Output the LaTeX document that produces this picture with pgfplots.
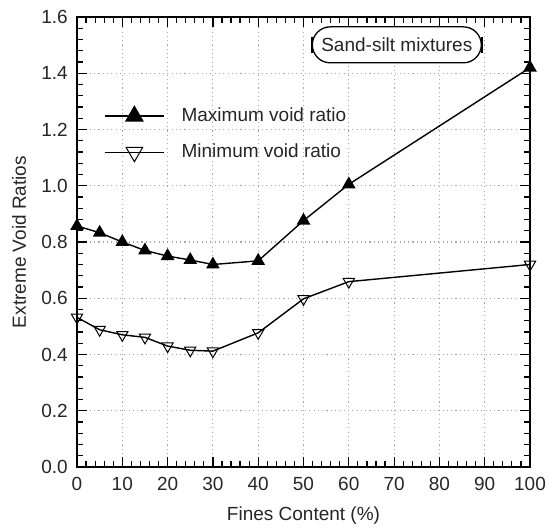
\documentclass[border=0pt]{standalone}
\usepackage{fontspec}
\setmainfont{Liberation Sans}
\usepackage{pgfplots}
\usepackage{pgfplotstable}
\pgfplotsset{compat=1.18}

% Extreme void ratios of sand-silt mixtures against fines content
\pgfplotstableread{
fc   emax
0    0.857
5    0.833
10   0.800
15   0.770
20   0.750
25   0.736
30   0.720
40   0.733
50   0.876
60   1.005
100  1.420
}\emaxdata
\pgfplotstableread{
fc   emin
0    0.532
5    0.488
10   0.470
15   0.461
20   0.430
25   0.415
30   0.412
40   0.477
50   0.598
60   0.659
100  0.720
}\emindata

\begin{document}
\fontsize{19bp}{23bp}\selectfont
\begin{tikzpicture}
\begin{axis}[
  at={(0,0)}, anchor=south west,
  scale only axis, width=453bp, height=450bp,
  xmin=0, xmax=100, ymin=0, ymax=1.6,
  xtick={0,10,20,30,40,50,60,70,80,90,100},
  ytick={0,0.2,0.4,0.6,0.8,1.0,1.2,1.4,1.6},
  minor x tick num=4, minor y tick num=4,
  tick align=inside,
  major tick length=10bp, minor tick length=6bp,
  tick style={black, line width=1.2bp},
  axis line style={line width=1.4bp},
  grid=major,
  major grid style={dash pattern=on 1.1bp off 3.2bp, gray!70, line width=1.1bp},
  /pgf/number format/assume math mode=true,
  tick label style={font=\fontsize{19bp}{23bp}\selectfont, text=black!85},
  xticklabel style={inner sep=0pt, yshift=-10bp},
  yticklabel style={inner sep=0pt, xshift=-9bp,
    /pgf/number format/.cd, fixed, fixed zerofill, precision=1},
  xlabel={Fines Content (\%)},
  ylabel={Extreme Void Ratios},
  label style={font=\fontsize{19bp}{23bp}\selectfont, text=black!85},
  xlabel style={at={(axis description cs:0.5,-0.107)}, anchor=center},
  ylabel style={at={(axis description cs:-0.128,0.5)}, anchor=center},
  legend cell align=left,
  legend style={draw=none, fill=none, inner sep=0pt,
    at={(axis description cs:0.0596,0.812)}, anchor=north west,
    font=\fontsize{19bp}{23bp}\selectfont, text=black!85,
    row sep=7.5bp, column sep=11bp,
    nodes={inner sep=6bp}},
  legend image code/.code={
    \draw[mark repeat=2, mark phase=2, #1, mark size=9.5bp]
      plot coordinates {(0bp,0bp) (29.5bp,0bp) (59bp,0bp)};},
]
\addplot[black, line width=1.4bp, mark=triangle*, mark size=6.5bp,
  mark options={solid, fill=black}]
  table[x=fc, y=emax] {\emaxdata};
\addlegendentry{Maximum void ratio}
\addplot[black, line width=1.4bp, mark=triangle, mark size=6.5bp,
  mark options={solid, rotate=180, fill=white, line width=1bp}]
  table[x=fc, y=emin] {\emindata};
\addlegendentry{Minimum void ratio}

\node[draw, line width=1.3bp, rounded corners=18bp,
  minimum width=169bp, minimum height=36bp, inner sep=0pt,
  fill=white, text=black!85] (ann) at (axis cs:70.6,1.501) {Sand-silt mixtures};
\draw[line width=2.2bp] ([yshift=-8bp]ann.west) -- ([yshift=8bp]ann.west);
\draw[line width=2.2bp] ([yshift=-8bp]ann.east) -- ([yshift=8bp]ann.east);
\end{axis}
\path[use as bounding box] (-77bp,-64bp) rectangle (470bp,467bp);
\end{tikzpicture}
\end{document}
